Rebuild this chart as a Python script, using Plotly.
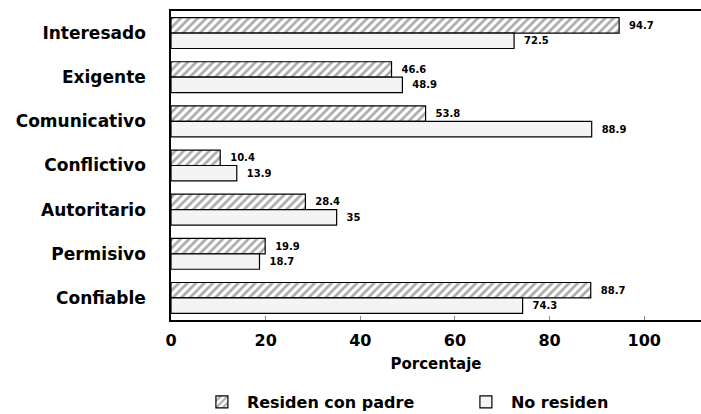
import plotly.graph_objects as go

categories = ["Interesado", "Exigente", "Comunicativo", "Conflictivo",
              "Autoritario", "Permisivo", "Confiable"]
residen_con_padre = [94.7, 46.6, 53.8, 10.4, 28.4, 19.9, 88.7]
no_residen = [72.5, 48.9, 88.9, 13.9, 35, 18.7, 74.3]
x_ticks = [0, 20, 40, 60, 80, 100]

FONT = "DejaVu Sans"
PAD = "\u00a0\u00a0"

def fmt(v):
    return PAD + f"{v:g}"

fig = go.Figure()
fig.add_trace(go.Bar(
    name="Residen con padre",
    y=categories, x=residen_con_padre, orientation="h",
    text=[fmt(v) for v in residen_con_padre], textposition="outside",
    textfont=dict(family=FONT, size=10, color="black", weight="bold"),
    marker=dict(color="white",
                line=dict(color="black", width=1.2),
                pattern=dict(shape="/", fgcolor="#555555", bgcolor="white",
                             size=6, solidity=0.45)),
    cliponaxis=False,
))
fig.add_trace(go.Bar(
    name="No residen",
    y=categories, x=no_residen, orientation="h",
    text=[fmt(v) for v in no_residen], textposition="outside",
    textfont=dict(family=FONT, size=10, color="black", weight="bold"),
    marker=dict(color="#f4f4f4", line=dict(color="black", width=1.2)),
    cliponaxis=False,
))

fig.update_layout(
    width=701, height=414,
    margin=dict(l=171, r=0, t=11, b=94, autoexpand=False),
    paper_bgcolor="white", plot_bgcolor="white",
    barmode="group", bargap=0.3, bargroupgap=0,
    font=dict(family=FONT, color="black"),
    showlegend=True,
    legend=dict(orientation="h", x=0.547, xanchor="center", y=-0.21,
                yanchor="top",
                font=dict(family=FONT, size=16, color="black", weight="bold"),
                itemwidth=40, entrywidth=209, traceorder="normal"),
)
fig.update_xaxes(
    range=[0, 112], tickvals=x_ticks, ticktext=[str(t) for t in x_ticks],
    tickfont=dict(family=FONT, size=16, color="black", weight="bold"),
    showgrid=False, zeroline=False, automargin=False,
    showline=True, linecolor="black", linewidth=1.5, mirror=True,
    ticks="inside", ticklen=4, tickcolor="#888888", ticklabelstandoff=5,
    title=dict(text="Porcentaje", standoff=10,
               font=dict(family=FONT, size=15, color="black", weight="bold")),
)
fig.update_yaxes(
    autorange="reversed", showgrid=False, automargin=False,
    tickfont=dict(family=FONT, size=17, color="black", weight="bold"),
    showline=True, linecolor="black", linewidth=1.5, mirror=False,
    ticks="", ticklabelstandoff=20,
)

fig.write_html(
    "out.html",
    config={"displayModeBar": False},
    post_script="document.body.style.margin='0';document.body.style.overflow='hidden';",
)
